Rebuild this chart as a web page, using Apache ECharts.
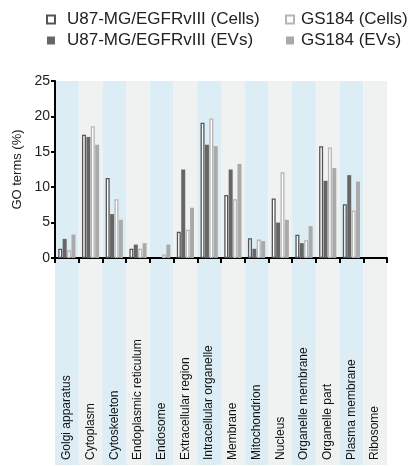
<!DOCTYPE html>
<html><head><meta charset="utf-8">
<script src="https://cdn.jsdelivr.net/npm/echarts@6/dist/echarts.min.js"></script>
<style>html,body{margin:0;padding:0;background:#fff}#c{width:408px;height:466px}</style>
</head><body><div id="c"></div>
<script>
var categories = ['Golgi apparatus','Cytoplasm','Cytoskeleton','Endoplasmic reticulum','Endosome','Extracellular region','Intracellular organelle','Membrane','Mitochondrion','Nucleus','Organelle membrane','Organelle part','Plasma membrane','Ribosome'];
var u87Cells = [1.3,17.4,11.3,1.3,0,3.7,19.1,8.9,2.8,8.4,3.3,15.8,7.6,0];
var u87EVs   = [2.7,17.1,6.2,1.9,0,12.5,16.0,12.5,1.3,5.0,2.1,10.9,11.7,0];
var gsCells  = [1.1,18.6,8.3,1.3,0.5,4.0,19.7,8.3,2.6,12.1,2.5,15.6,6.7,0];
var gsEVs    = [3.3,16.0,5.4,2.1,1.9,7.1,15.8,13.3,2.4,5.4,4.5,12.7,10.8,0];
var yTicks = [0,5,10,15,20,25];
var names = ['U87-MG/EGFRvIII (Cells)','U87-MG/EGFRvIII (EVs)','GS184 (Cells)','GS184 (EVs)'];

var bandColors = ['#dcedf5','#f0f1f1'];
var font = 'Liberation Sans, Arial, sans-serif';
var chart = echarts.init(document.getElementById('c'));
function bar(name, data, fill, border) {
  return {
    name: name, type: 'bar',
    data: data.map(function (v) { return v === 0 ? '-' : v; }),
    xAxisIndex: 0, yAxisIndex: 0,
    barWidth: 4, barGap: '10%',
    itemStyle: {color: fill, borderColor: border, borderWidth: border ? 1.3 : 0},
    emphasis: {disabled: true}
  };
}
function legend(items, left, padLeft) {
  return {data: items, orient: 'vertical', left: left, top: 11, padding: 0, icon: 'rect',
    itemWidth: 8, itemHeight: 8, itemGap: 4, selectedMode: false,
    textStyle: {fontSize: 17, color: '#222', fontFamily: font, padding: [0, 0, 0, padLeft]}};
}
chart.setOption({
  animation: false,
  textStyle: {fontFamily: font},
  legend: [legend([names[0], names[1]], 46, 7), legend([names[2], names[3]], 285, 2)],
  grid: [
    {left: 55, right: 21, top: 81, height: 177},
    {left: 55, right: 21, top: 258, bottom: 1}
  ],
  xAxis: [
    {type: 'category', data: categories, gridIndex: 0,
     axisLine: {lineStyle: {color: '#000', width: 2}},
     axisTick: {show: true, interval: 0, length: 5, lineStyle: {color: '#000', width: 2}},
     axisLabel: {show: false, interval: 0},
     splitArea: {show: true, interval: 0, areaStyle: {color: bandColors}},
     splitLine: {show: false}},
    {type: 'category', data: categories, gridIndex: 1, position: 'bottom',
     axisLine: {show: false}, axisTick: {show: false},
     axisLabel: {show: true, interval: 0, inside: true, rotate: 90, margin: 5,
                 fontSize: 12, color: '#111', fontFamily: font},
     splitArea: {show: true, interval: 0, areaStyle: {color: bandColors}},
     splitLine: {show: false}}
  ],
  yAxis: [
    {type: 'value', gridIndex: 0, min: yTicks[0], max: yTicks[yTicks.length-1], interval: 5,
     name: 'GO terms (%)', nameLocation: 'middle', nameGap: 21,
     nameTextStyle: {fontSize: 13, color: '#222', fontFamily: font},
     axisLine: {show: true, lineStyle: {color: '#000', width: 2}},
     axisTick: {show: true, length: 4, lineStyle: {color: '#000', width: 2}},
     axisLabel: {fontSize: 14, color: '#222', margin: 5, fontFamily: font},
     splitLine: {show: false}},
    {type: 'value', gridIndex: 1, show: false, min: 0, max: 1}
  ],
  series: [
    bar(names[0], u87Cells, '#ffffff', '#555555'),
    bar(names[1], u87EVs, '#666666', null),
    bar(names[2], gsCells, '#ffffff', '#b5b5b5'),
    bar(names[3], gsEVs, '#aaaaaa', null)
  ]
});
</script></body></html>
